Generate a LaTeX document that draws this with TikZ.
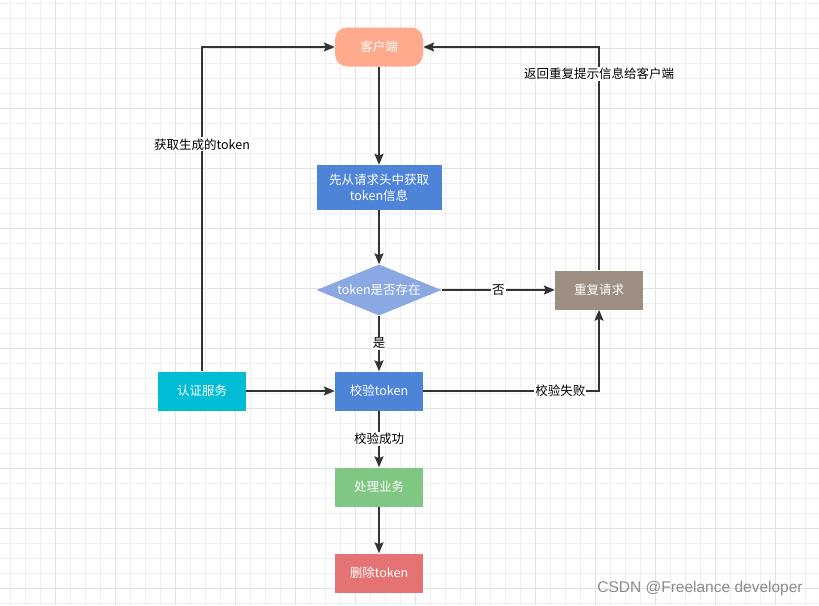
\documentclass[tikz,border=0pt]{standalone}
\usepackage{fontspec}
\setmainfont{Noto Sans CJK SC}
\newfontfamily\markfont{Liberation Sans}
\usetikzlibrary{shapes.geometric,arrows.meta}
\definecolor{clientred}{HTML}{FFAA8C}
\definecolor{stepblue}{HTML}{4D84D8}
\definecolor{askblue}{HTML}{8AA8E2}
\definecolor{retrygray}{HTML}{9C8E80}
\definecolor{authcyan}{HTML}{00BCD4}
\definecolor{dogreen}{HTML}{7FC782}
\definecolor{delred}{HTML}{E57373}
\definecolor{linkgray}{HTML}{333333}
\definecolor{gridminor}{HTML}{EFEFEF}
\definecolor{gridmajor}{HTML}{E2E2E2}
\begin{document}
\begin{tikzpicture}[x=1pt,y=-1pt,
	box/.style={rectangle,minimum width=88pt,minimum height=39pt,inner sep=0pt,text=white,font=\fontsize{12.5}{16}\selectfont,align=center},
	link/.style={draw=linkgray,line width=1.8pt,-{Stealth[length=11pt,width=9pt,inset=2pt]}},
	lbl/.style={fill=white,inner sep=1pt,text=black,font=\fontsize{12.5}{14}\selectfont}]
	\useasboundingbox[fill=white] (0,0) rectangle (819,605);
	% grid
	\foreach \x in {10,25,...,819} \draw[gridminor,line width=0.8pt] (\x,0) -- (\x,605);
	\foreach \y in {3,18,...,605} \draw[gridminor,line width=0.8pt] (0,\y) -- (819,\y);
	\foreach \x in {55,115,...,819} \draw[gridmajor,line width=0.8pt] (\x,0) -- (\x,605);
	\foreach \y in {48,108,...,605} \draw[gridmajor,line width=0.8pt] (0,\y) -- (819,\y);
	% steps
	\node[box,fill=clientred,rounded corners=12pt] (client) at (379,47) {客户端};
	\node[box,fill=stepblue,minimum width=125pt,minimum height=45pt] (header) at (379,187.5) {先从请求头中获取\\token信息};
	\node[diamond,aspect=2.45,fill=askblue,minimum width=125pt,minimum height=51pt,inner sep=0pt,text=white,font=\fontsize{12.5}{16}\selectfont] (exist) at (379,290) {token是否存在};
	\node[box,fill=retrygray] (retry) at (599,290) {重复请求};
	\node[box,fill=authcyan] (auth) at (202,391) {认证服务};
	\node[box,fill=stepblue] (check) at (379,391) {校验token};
	\node[box,fill=dogreen] (handle) at (379,487) {处理业务};
	\node[box,fill=delred] (remove) at (379,573) {删除token};
	% links
	\draw[link] (client) -- (header);
	\draw[link] (header) -- (exist);
	\draw[link] (exist) -- node[lbl]{否} (retry);
	\draw[link] (exist) -- node[lbl]{是} (check);
	\draw[link] (auth) -- (check);
	\draw[link] (auth) |- node[lbl,pos=0.35]{获取生成的token} (client);
	\draw[link] (check) -| node[lbl,pos=0.39]{校验失败} (retry);
	\draw[link] (retry) |- node[lbl,pos=0.44]{返回重复提示信息给客户端} (client);
	\draw[link] (check) -- node[lbl]{校验成功} (handle);
	\draw[link] (handle) -- (remove);
	\node[text=black!45,font=\markfont\fontsize{15.5}{17}\selectfont] (mark) at (700,588) {CSDN @Freelance developer};
\end{tikzpicture}
\end{document}
